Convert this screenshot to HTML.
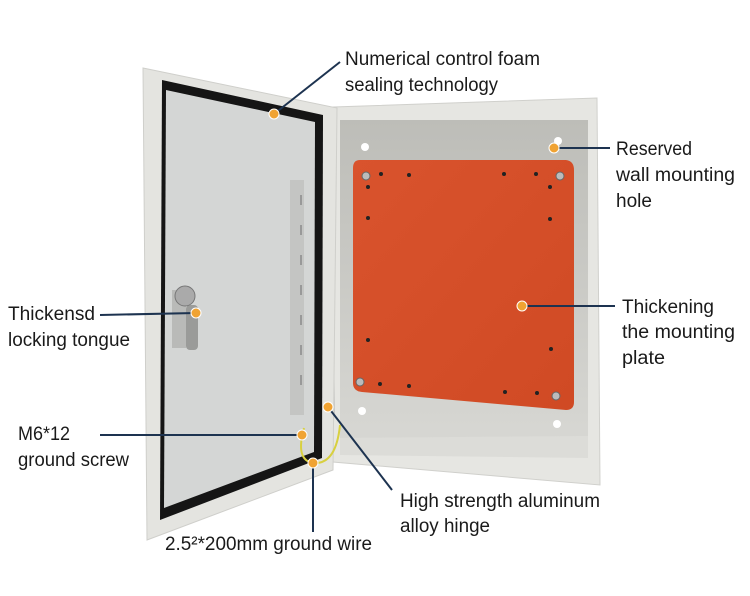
<!DOCTYPE html>
<html><head><meta charset="utf-8"><style>
html,body{margin:0;padding:0;background:#fff;}
svg{display:block}
text{font-family:"Liberation Sans Narrow","Liberation Sans",sans-serif;font-size:19px;fill:#1a1a1a;}
</style></head><body>
<svg width="750" height="596" viewBox="0 0 750 596" xmlns="http://www.w3.org/2000/svg">
<defs>
<linearGradient id="pl" x1="0" y1="0" x2="1" y2="1">
<stop offset="0" stop-color="#d9532d"/><stop offset="1" stop-color="#d04a24"/></linearGradient>
<linearGradient id="cav" x1="0" y1="0" x2="0" y2="1">
<stop offset="0" stop-color="#bdbdb8"/><stop offset="1" stop-color="#d8d8d4"/></linearGradient>
</defs>
<!-- cabinet body -->
<polygon points="333,107 597,98 600,485 333,462" fill="#e6e6e2" stroke="#d0d0cc"/>
<polygon points="340,120 588,120 588,455 340,452" fill="url(#cav)"/>
<polygon points="340,438 588,436 588,458 340,455" fill="#dcdcd8"/>
<!-- plate -->
<path d="M360,160 L566,160 Q574,161 574,170 L574,402 Q574,410 566,410 L362,392 Q353,391 353,383 L353,168 Q353,160 360,160 Z" fill="url(#pl)"/>
<g fill="#222">
<circle cx="381" cy="174" r="2"/><circle cx="409" cy="175" r="2"/><circle cx="504" cy="174" r="2"/><circle cx="536" cy="174" r="2"/>
<circle cx="368" cy="218" r="2"/><circle cx="550" cy="219" r="2"/><circle cx="368" cy="340" r="2"/><circle cx="551" cy="349" r="2"/>
<circle cx="380" cy="384" r="2"/><circle cx="409" cy="386" r="2"/><circle cx="505" cy="392" r="2"/><circle cx="537" cy="393" r="2"/>
<circle cx="368" cy="187" r="2"/><circle cx="550" cy="187" r="2"/>
</g>
<g fill="#bbb" stroke="#666"><circle cx="366" cy="176" r="4"/><circle cx="560" cy="176" r="4"/><circle cx="360" cy="382" r="4"/><circle cx="556" cy="396" r="4"/></g>
<g fill="#fff"><circle cx="365" cy="147" r="4"/><circle cx="558" cy="141" r="4"/><circle cx="362" cy="411" r="4"/><circle cx="557" cy="424" r="4"/></g>
<!-- hinges -->
<rect x="326" y="155" width="8" height="50" fill="#d8d8d8" stroke="#999"/>
<rect x="326" y="370" width="8" height="45" fill="#d8d8d8" stroke="#999"/>
<!-- door -->
<polygon points="143,68 337,108 333,470 147,540" fill="#e4e4e0" stroke="#cfcfcb"/>
<polygon points="162,80 323,115 322,458 160,520" fill="#151515"/>
<polygon points="166,90 315,122 314,452 164,508" fill="#d4d6d5"/>
<!-- door rail -->
<rect x="290" y="180" width="14" height="235" fill="#c4c5c3"/>
<g fill="#999"><rect x="300" y="195" width="2" height="10"/><rect x="300" y="225" width="2" height="10"/><rect x="300" y="255" width="2" height="10"/><rect x="300" y="285" width="2" height="10"/><rect x="300" y="315" width="2" height="10"/><rect x="300" y="345" width="2" height="10"/><rect x="300" y="375" width="2" height="10"/></g>
<!-- lock -->
<rect x="172" y="290" width="14" height="58" fill="#b9bab8"/>
<rect x="186" y="305" width="12" height="45" rx="4" fill="#9a9b99"/>
<circle cx="185" cy="296" r="10" fill="#aaa" stroke="#777"/>
<!-- ground wire -->
<path d="M304,428 Q295,460 313,463 Q336,465 340,425" fill="none" stroke="#d8d040" stroke-width="2"/>
<!-- leader lines -->
<g stroke="#1d3350" stroke-width="2" fill="none">
<line x1="274" y1="114" x2="340" y2="62"/>
<line x1="554" y1="148" x2="610" y2="148"/>
<line x1="522" y1="306" x2="615" y2="306"/>
<line x1="100" y1="315" x2="196" y2="313"/>
<line x1="100" y1="435" x2="302" y2="435"/>
<line x1="313" y1="463" x2="313" y2="532"/>
<line x1="328" y1="407" x2="392" y2="490"/>
</g>
<g fill="#f0a333" stroke="#fff" stroke-width="1">
<circle cx="274" cy="114" r="5"/><circle cx="554" cy="148" r="5"/><circle cx="522" cy="306" r="5"/>
<circle cx="196" cy="313" r="5"/><circle cx="302" cy="435" r="5"/><circle cx="313" cy="463" r="5"/><circle cx="328" cy="407" r="5"/>
</g>
<!-- labels -->
<text x="345" y="65" textLength="195" lengthAdjust="spacingAndGlyphs">Numerical control foam</text>
<text x="345" y="91" textLength="153" lengthAdjust="spacingAndGlyphs">sealing technology</text>
<text x="616" y="155" textLength="76" lengthAdjust="spacingAndGlyphs">Reserved</text>
<text x="616" y="181" textLength="119" lengthAdjust="spacingAndGlyphs">wall mounting</text>
<text x="616" y="207" textLength="36" lengthAdjust="spacingAndGlyphs">hole</text>
<text x="622" y="313" textLength="92" lengthAdjust="spacingAndGlyphs">Thickening</text>
<text x="622" y="338" textLength="113" lengthAdjust="spacingAndGlyphs">the mounting</text>
<text x="622" y="364" textLength="43" lengthAdjust="spacingAndGlyphs">plate</text>
<text x="8" y="320" textLength="87" lengthAdjust="spacingAndGlyphs">Thickensd</text>
<text x="8" y="346" textLength="122" lengthAdjust="spacingAndGlyphs">locking tongue</text>
<text x="18" y="440" textLength="52" lengthAdjust="spacingAndGlyphs">M6*12</text>
<text x="18" y="466" textLength="111" lengthAdjust="spacingAndGlyphs">ground screw</text>
<text x="165" y="550" textLength="207" lengthAdjust="spacingAndGlyphs">2.5²*200mm ground wire</text>
<text x="400" y="507" textLength="200" lengthAdjust="spacingAndGlyphs">High strength aluminum</text>
<text x="400" y="532" textLength="90" lengthAdjust="spacingAndGlyphs">alloy hinge</text>
</svg>
</body></html>
